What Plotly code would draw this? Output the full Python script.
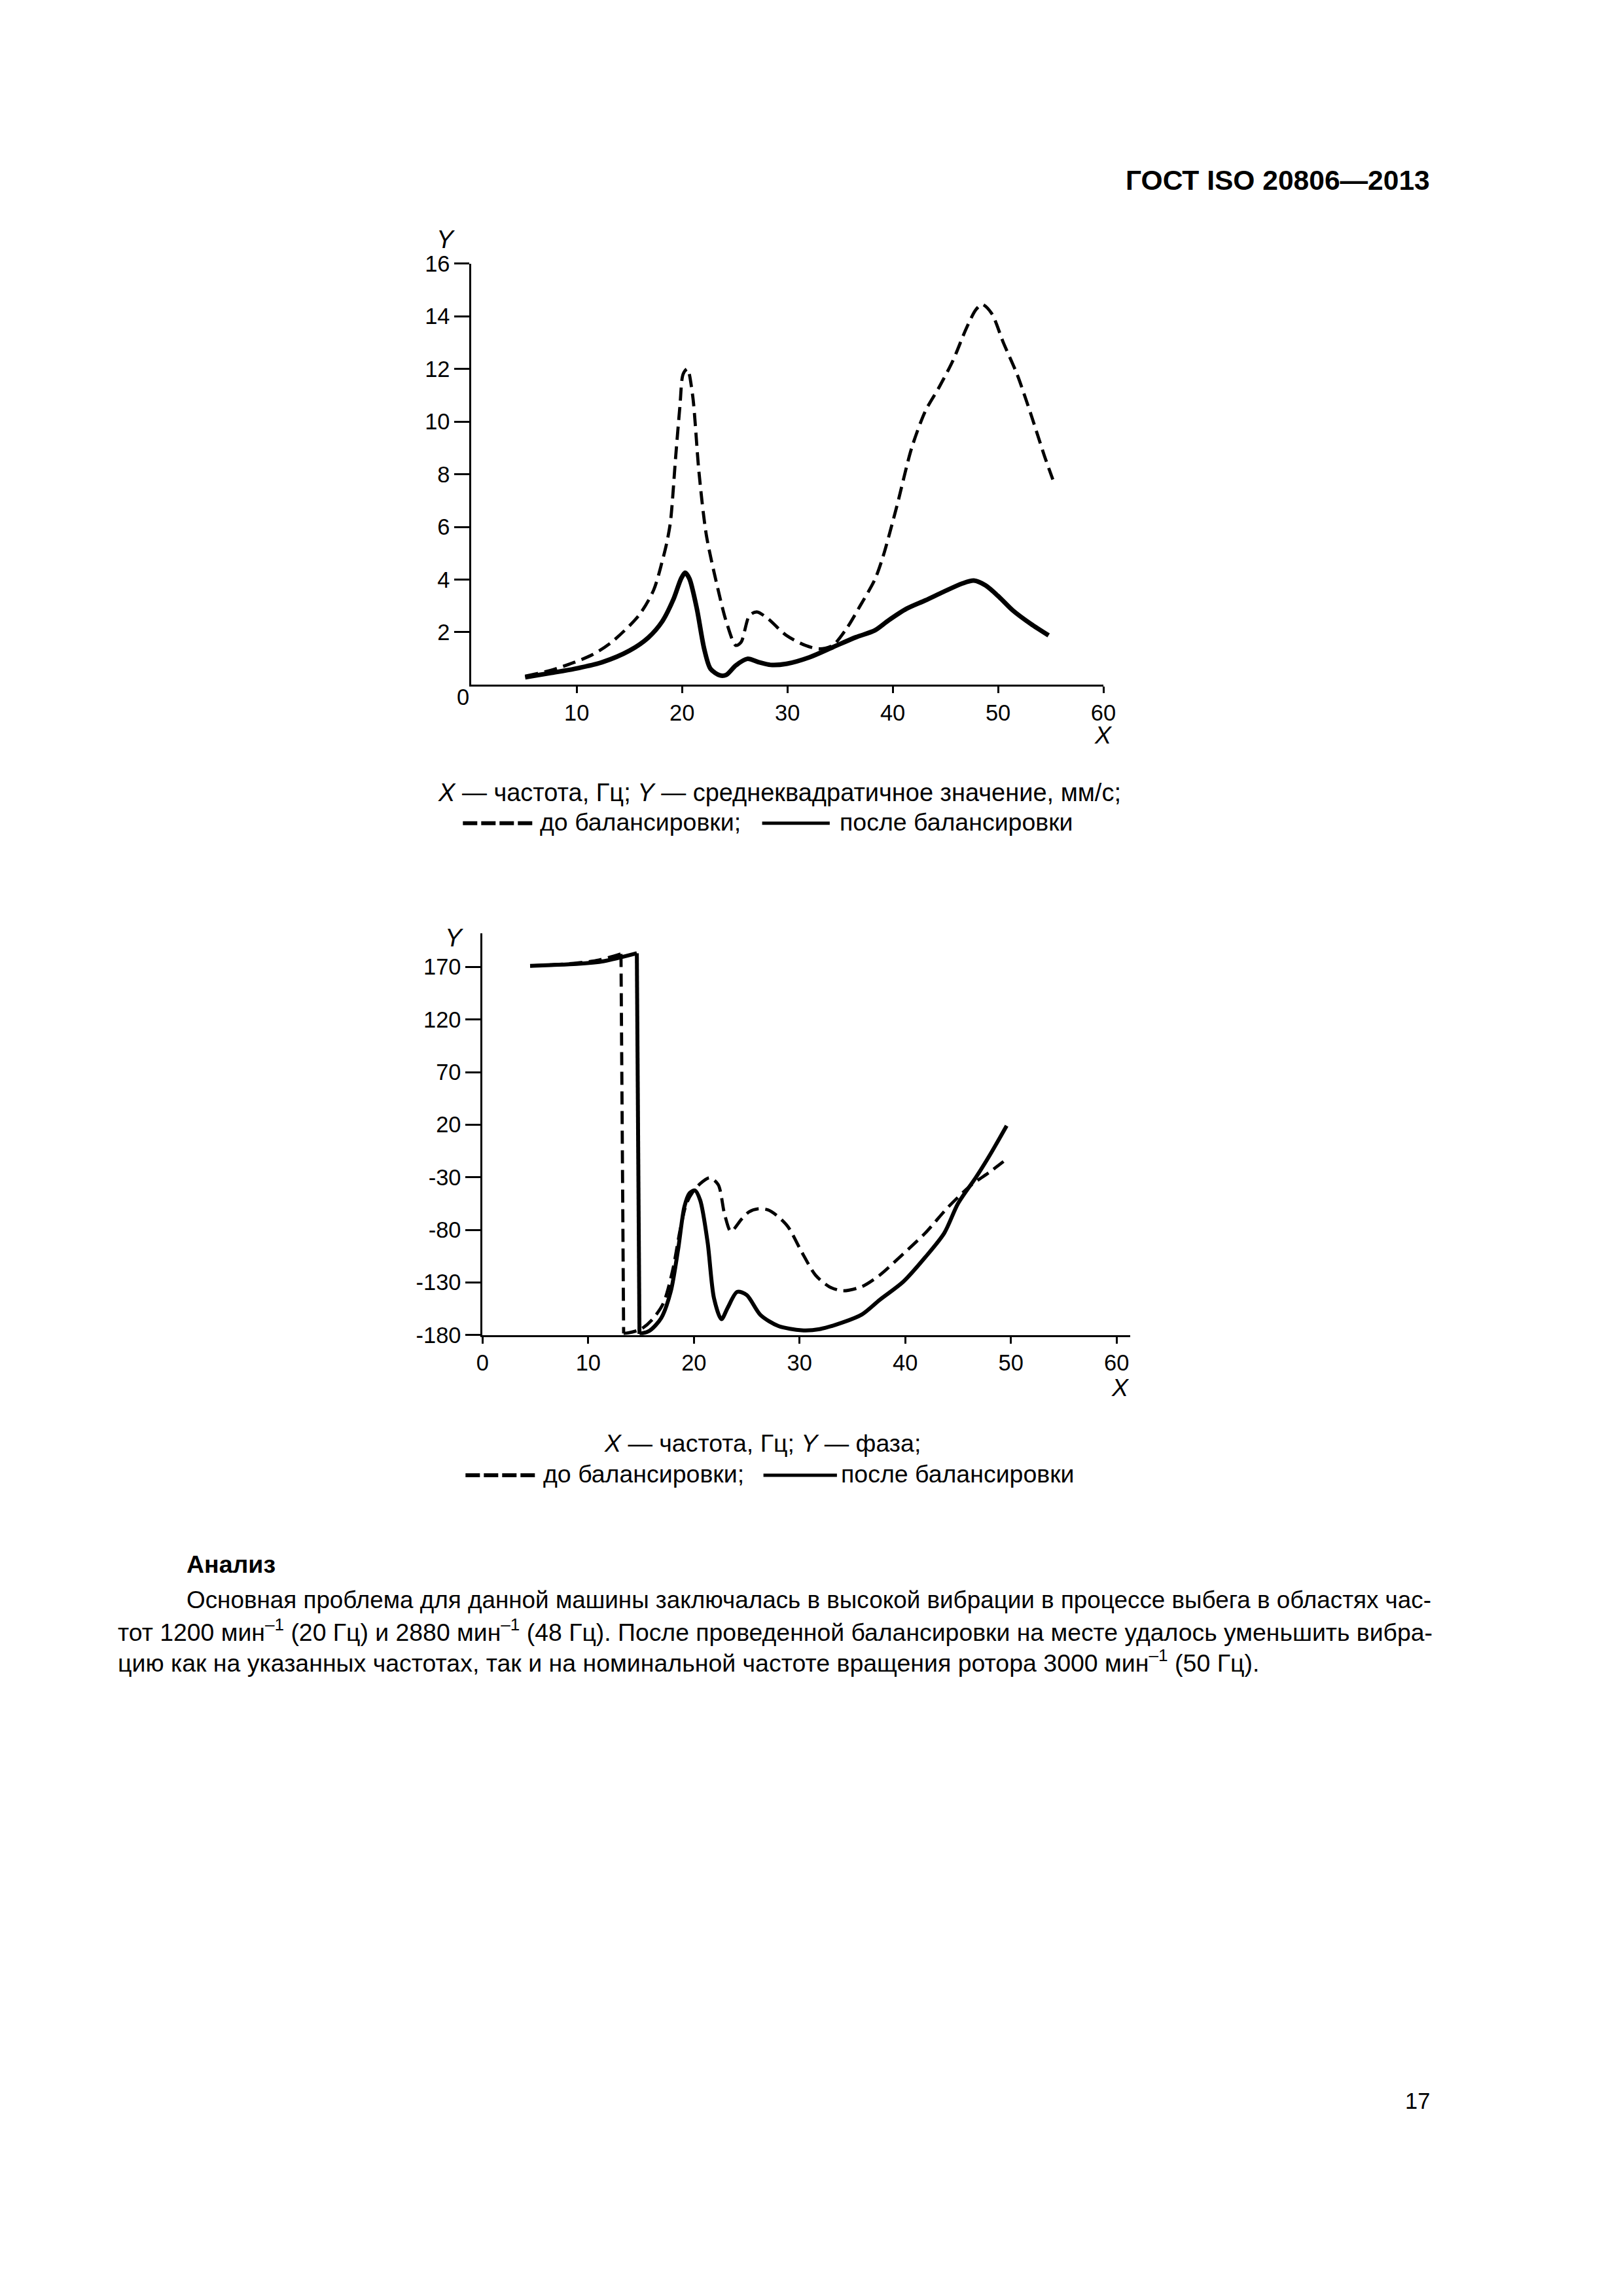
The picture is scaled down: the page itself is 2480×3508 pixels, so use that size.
import plotly.graph_objects as go

PAGE_W, PAGE_H = 2480, 3508
OFF = 8
W, H = PAGE_W - 2 * OFF, PAGE_H - 2 * OFF
FONT = "Liberation Sans, Arial, sans-serif"

# observed render mapping (figure px -> picture px): r = S * f + O
SX, OX = 0.9855, 19.6
SY, OY = 0.9879, 27.8
FS = 1 / 0.987   # font compensation

# ---------------- Data: amplitude chart (top) ----------------
amp_before_x = [5.1, 7.5, 9.8, 11.5, 13.3, 15.9, 17.3, 18.1, 18.55, 18.9, 19.4, 19.8, 20.1, 20.5,
                21.0, 21.6, 22.3, 23.4, 24.2, 25.1, 25.6, 26.4, 27.1, 28.2, 29.9, 31.7, 33.0,
                34.3, 35.6, 36.9, 38.3, 39.1, 40.4, 41.8, 43.1, 44.4, 45.7, 47.0, 47.9, 48.5,
                49.4, 50.5, 51.8, 53.1, 54.4, 55.2]
amp_before_y = [0.33, 0.55, 0.86, 1.15, 1.62, 2.64, 3.6, 4.67, 5.4, 6.2, 8.7, 10.6, 11.8, 12.0,
                11.0, 8.1, 5.7, 3.65, 2.4, 1.5, 1.62, 2.64, 2.77, 2.5, 1.88, 1.5, 1.37,
                1.5, 2.13, 3.0, 4.0, 4.9, 6.8, 9.0, 10.4, 11.3, 12.3, 13.55, 14.25, 14.45,
                14.1, 13.0, 11.8, 10.3, 8.7, 7.8]

amp_after_x = [5.1, 7.5, 9.8, 12.4, 15.0, 16.8, 18.1, 19.2, 19.9, 20.3, 20.7, 21.4, 22.1, 22.7,
               23.6, 24.2, 25.1, 26.2, 27.3, 28.4, 29.9, 32.1, 34.3, 36.5, 38.3, 39.6, 41.3,
               43.1, 44.8, 46.6, 47.7, 48.8, 50.1, 51.4, 53.1, 54.8]
amp_after_y = [0.29, 0.45, 0.61, 0.86, 1.3, 1.8, 2.4, 3.27, 4.03, 4.26, 4.03, 2.9, 1.37, 0.61,
               0.36, 0.38, 0.74, 0.99, 0.86, 0.76, 0.8, 1.05, 1.43, 1.81, 2.07, 2.45, 2.89,
               3.21, 3.53, 3.85, 3.96, 3.78, 3.34, 2.83, 2.32, 1.88]

amp_xticks = [10, 20, 30, 40, 50, 60]
amp_yticks = [2, 4, 6, 8, 10, 12, 14, 16]

# ---------------- Data: phase chart (bottom) ----------------
ph_before_x = [4.5, 6.5, 8.9, 11.0, 13.1, 13.35, 13.8, 15.0, 16.0, 17.1, 18.0, 18.7, 19.3,
               19.9, 20.6, 21.5, 22.3, 22.9, 23.5, 24.5, 25.2, 26.1, 27.0, 27.8, 28.9, 30.2,
               31.5, 32.8, 34.1, 35.9, 37.6, 39.8, 41.9, 44.1, 46.3, 48.0, 49.3]
ph_before_y = [171, 172, 173.7, 176.5, 182.4, -178.5, -178, -174.4, -166, -150, -118, -80, -55,
               -44, -36, -30.5, -37, -65, -81.5, -70, -63, -60, -61, -66, -77, -101,
               -123, -134, -138, -134, -123, -103, -83, -58, -37, -25, -15]
ph_before_drop = 4   # index of last point before the vertical drop

ph_after_x = [4.5, 6.5, 8.9, 11.5, 14.6, 14.85, 15.8, 16.9, 17.8, 18.5, 19.1, 19.6, 20.1, 20.6,
              21.3, 21.9, 22.6, 23.2, 24.1, 25.0, 26.3, 28.0, 30.2, 31.9, 34.1, 35.9, 37.6,
              39.8, 41.9, 43.7, 45.0, 46.7, 48.0, 49.6]
ph_after_y = [171, 171.8, 172.8, 175.5, 183, -179, -176, -164, -139, -99, -58, -45, -42.5, -52,
              -92, -145, -165, -154, -139, -142, -161, -171.5, -175.5, -174.4, -168, -160.5, -146.5,
              -129.5, -106, -83, -55, -30, -9, 19]
ph_after_drop = 4

ph_xticks = [0, 10, 20, 30, 40, 50, 60]
ph_yticks = [-180, -130, -80, -30, 20, 70, 120, 170]
ph_ytick_labels = ["-180", "-130", "-80", "-30", "20", "70", "120", "170"]

# ---------------- Layout helpers (target picture px -> paper fractions) ----------------
def fx(px):
    return ((px - OX) / SX) / W

def fy(py):
    return 1 - ((py - OY) / SY) / H

def fs(size):
    return round(size * FS, 2)

fig = go.Figure()

DASH = "20px,10px"

fig.add_trace(go.Scatter(x=amp_before_x, y=amp_before_y, mode="lines", xaxis="x", yaxis="y",
                         line=dict(color="black", width=4.8, dash=DASH, shape="spline", smoothing=0.8),
                         showlegend=False, hoverinfo="skip"))
fig.add_trace(go.Scatter(x=amp_after_x, y=amp_after_y, mode="lines", xaxis="x", yaxis="y",
                         line=dict(color="black", width=7, shape="spline", smoothing=0.8),
                         showlegend=False, hoverinfo="skip"))

def add_phase(xs, ys, k, width, dash):
    segs = [(xs[:k + 1], ys[:k + 1], "spline"),
            (xs[k:k + 2], ys[k:k + 2], "linear"),
            (xs[k + 1:], ys[k + 1:], "spline")]
    for sx, sy, shp in segs:
        ln = dict(color="black", width=width, shape=shp)
        if shp == "spline":
            ln["smoothing"] = 0.8
        if dash:
            ln["dash"] = dash
        fig.add_trace(go.Scatter(x=sx, y=sy, mode="lines", xaxis="x2", yaxis="y2", line=ln,
                                 showlegend=False, hoverinfo="skip"))

add_phase(ph_before_x, ph_before_y, ph_before_drop, 4.8, DASH)
add_phase(ph_after_x, ph_after_y, ph_after_drop, 6, None)

tickfont = dict(family=FONT, size=fs(34), color="black")
axcommon = dict(showline=True, linecolor="black", linewidth=3, ticks="outside", tickwidth=3,
                tickcolor="black", showgrid=False, zeroline=False, tickfont=tickfont,
                fixedrange=True)

fig.update_layout(
    width=W, height=H, autosize=False,
    margin=dict(l=0, r=0, t=0, b=0),
    paper_bgcolor="white", plot_bgcolor="white",
    xaxis=dict(domain=[fx(720), fx(1683)], range=[0, 60], anchor="y",
               tickmode="array", tickvals=amp_xticks, ticklen=10, **axcommon),
    yaxis=dict(domain=[fy(1046), fy(403)], range=[0, 16], anchor="x",
               tickmode="array", tickvals=amp_yticks, ticklen=23, **axcommon),
    xaxis2=dict(domain=[fx(737), fx(1724)], range=[0, 61.3], anchor="y2",
                tickmode="array", tickvals=ph_xticks, ticklen=10, **axcommon),
    yaxis2=dict(domain=[fy(2038), fy(1425)], range=[-180, 202], anchor="x2",
                tickmode="array", tickvals=ph_yticks, ticktext=ph_ytick_labels,
                ticklen=23, **axcommon),
)

ann = []

def text(px, py, s, size=37, xanchor="left", weight="normal", style="normal"):
    ann.append(dict(x=fx(px), y=fy(py), xref="paper", yref="paper", text=s, showarrow=False,
                    xanchor=xanchor, yanchor="middle",
                    font=dict(family=FONT, size=fs(size), color="black", weight=weight, style=style)))

# header and page number
text(2183, 275, "ГОСТ ISO 20806—2013", size=42, xanchor="right", weight="bold")
text(2183, 3207, "17", size=34, xanchor="right")

# top chart labels
text(681, 366, "Y", size=38, xanchor="center", style="italic")
text(1683, 1122, "X", size=37, xanchor="center", style="italic")
text(707, 1065, "0", size=34, xanchor="center")

# bottom chart labels
text(694, 1432, "Y", size=38, xanchor="center", style="italic")
text(1709, 2118, "X", size=37, xanchor="center", style="italic")

# captions
text(1189, 1210, "<i>X</i> — частота, Гц; <i>Y</i> — среднеквадратичное значение, мм/с;",
     size=37.5, xanchor="center")
text(822, 1255, "до балансировки;", size=37)
text(1279, 1255, "после балансировки", size=37)

text(1163, 2203, "<i>X</i> — частота, Гц; <i>Y</i> — фаза;", size=37, xanchor="center")
text(827, 2250, "до балансировки;", size=37)
text(1281, 2250, "после балансировки", size=37)

shapes = []
def seg(x0, x1, py, dash=None, width=5):
    ln = dict(color="black", width=width)
    if dash:
        ln["dash"] = dash
    shapes.append(dict(type="line", xref="paper", yref="paper", x0=fx(x0), x1=fx(x1),
                       y0=fy(py), y1=fy(py), line=ln))

seg(707, 816, 1257, dash="22px,6px", width=6)
seg(1163, 1266, 1257, width=5)
seg(711, 818, 2252, dash="22px,6px", width=6)
seg(1165, 1277, 2252, width=5)

# analysis text
text(284, 2388, "Анализ", size=37, weight="bold")
text(284, 2442, "Основная проблема для данной машины заключалась в высокой вибрации в процессе выбега в областях час-", size=36.35)
text(179, 2489, "тот 1200 мин<sup>–1</sup> (20 Гц) и 2880 мин<sup>–1</sup> (48 Гц). После проведенной балансировки на месте удалось уменьшить вибра-", size=36.9)
text(179, 2536, "цию как на указанных частотах, так и на номинальной частоте вращения ротора 3000 мин<sup>–1</sup> (50 Гц).", size=37)

fig.update_layout(annotations=ann, shapes=shapes)

fig.write_html("out.html")
